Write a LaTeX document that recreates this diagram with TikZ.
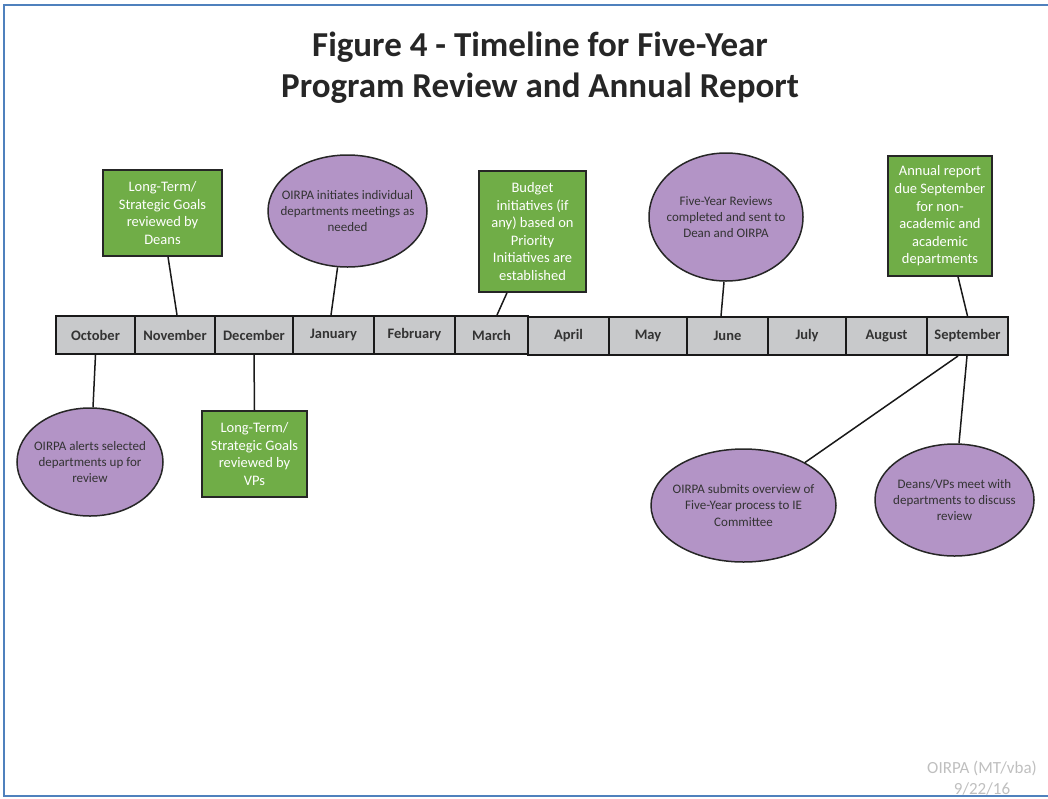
\documentclass[tikz,border=0pt]{standalone}
\usepackage{fontspec}
\setmainfont{Carlito}
\usetikzlibrary{shapes.geometric}
\definecolor{frameblue}{HTML}{4F81BD}
\definecolor{evgreen}{HTML}{70AD47}
\definecolor{evpurple}{HTML}{B394C6}
\definecolor{cellgray}{HTML}{C8C9CB}
\definecolor{darktext}{HTML}{333333}
\definecolor{foot}{HTML}{BFBFBF}
\tikzset{
  month/.style={draw=black!90, line width=2pt, fill=cellgray, inner sep=0pt,
    minimum height=38pt, font=\fontsize{14.5}{16}\selectfont\bfseries, text=darktext},
  gbox/.style={draw=black!85, line width=1.5pt, fill=evgreen, inner sep=0pt,
    align=center, text=white, font=\fontsize{14.5}{17.6}\selectfont},
  pell/.style={ellipse, draw=black!85, line width=1.5pt, fill=evpurple,
    inner xsep=-45pt, inner ysep=0pt,
    align=center, text=darktext, font=\fontsize{13}{16.3}\selectfont},
  conn/.style={draw=black!90, line width=1.5pt}
}
\begin{document}
\begin{tikzpicture}[x=1pt,y=-1pt]
\useasboundingbox (0,0) rectangle (1048,798);
% frame
\draw[frameblue, line width=2.2pt] (1048,5) -- (4,5) -- (4,796) -- (1048,796);
% title
\node[align=center, text=black!85, font=\fontsize{35}{41}\selectfont\bfseries] (title) at (540,68)
  {Figure 4 - Timeline for Five-Year\\Program Review and Annual Report};
% months
\node[month, minimum width=79pt] (moct) at (95.5,335) {October};
\node[month, minimum width=80pt] (mnov) at (175,335) {November};
\node[month, minimum width=78pt] (mdec) at (254,335) {December};
\node[month, minimum width=81pt] (mjan) at (333.5,335) {January};
\node[month, minimum width=81pt] (mfeb) at (414.5,335) {February};
\node[month, minimum width=73pt] (mmar) at (491.5,335) {March};
\node[month, minimum width=81pt] (mapr) at (568.5,336) {April};
\node[month, minimum width=78pt] (mmay) at (648,336) {May};
\node[month, minimum width=81pt] (mjun) at (727.5,336) {June};
\node[month, minimum width=78pt] (mjul) at (807,336) {July};
\node[month, minimum width=81pt] (maug) at (886.5,336) {August};
\node[month, minimum width=81pt] (msep) at (967.5,336) {September};
% above
\node[gbox, minimum width=119pt, minimum height=86pt] (gnov) at (162.5,213)
  {Long-Term/\\Strategic Goals\\reviewed by\\Deans};
\node[pell, minimum width=159pt, minimum height=112pt] (ejan) at (347.5,211)
  {OIRPA initiates individual\\departments meetings as\\needed};
\node[gbox, minimum width=107pt, minimum height=121pt] (gmar) at (532.5,231.5)
  {Budget\\initiatives (if\\any) based on\\Priority\\Initiatives are\\established};
\node[pell, minimum width=154pt, minimum height=128pt] (ejun) at (726,217)
  {Five-Year Reviews\\completed and sent to\\Dean and OIRPA};
\node[gbox, minimum width=104pt, minimum height=120pt] (gsep) at (940,216)
  {Annual report\\due September\\for non-\\academic and\\academic\\departments};
% below
\node[pell, minimum width=146pt, minimum height=108pt] (eoct) at (90,462)
  {OIRPA alerts selected\\departments up for\\review};
\node[gbox, minimum width=105pt, minimum height=86pt] (gdec) at (254.5,454)
  {Long-Term/\\Strategic Goals\\reviewed by\\VPs};
\node[pell, minimum width=185pt, minimum height=113pt] (esub) at (743.5,505.5)
  {OIRPA submits overview of\\Five-Year process to IE\\Committee};
\node[pell, minimum width=159pt, minimum height=112pt] (edea) at (954.5,500)
  {Deans/VPs meet with\\departments to discuss\\review};
% connectors
\draw[conn] ([xshift=5.5pt]gnov.south) -- ([xshift=2pt]mnov.north);
\draw[conn] (ejan.260) -- ([xshift=-2.5pt]mjan.north);
\draw[conn] ([xshift=-25.5pt]gmar.south) -- ([xshift=5.5pt]mmar.north);
\draw[conn] ([xshift=-2pt]ejun.south) -- ([xshift=-6.5pt]mjun.north);
\draw[conn] ([xshift=18pt]gsep.south) -- (msep.north);
\draw[conn] (moct.south) -- ([xshift=3pt]eoct.north);
\draw[conn] (mdec.south) -- (gdec.north);
\draw[conn] ([xshift=-9.5pt]msep.south) -- (esub.35);
\draw[conn] ([xshift=-0.5pt]msep.south) -- ([xshift=4.5pt]edea.north);
% footer
\node[align=center, text=foot, font=\fontsize{17}{21}\selectfont] (foot) at (982,778)
  {OIRPA (MT/vba)\\9/22/16};
\end{tikzpicture}
\end{document}
